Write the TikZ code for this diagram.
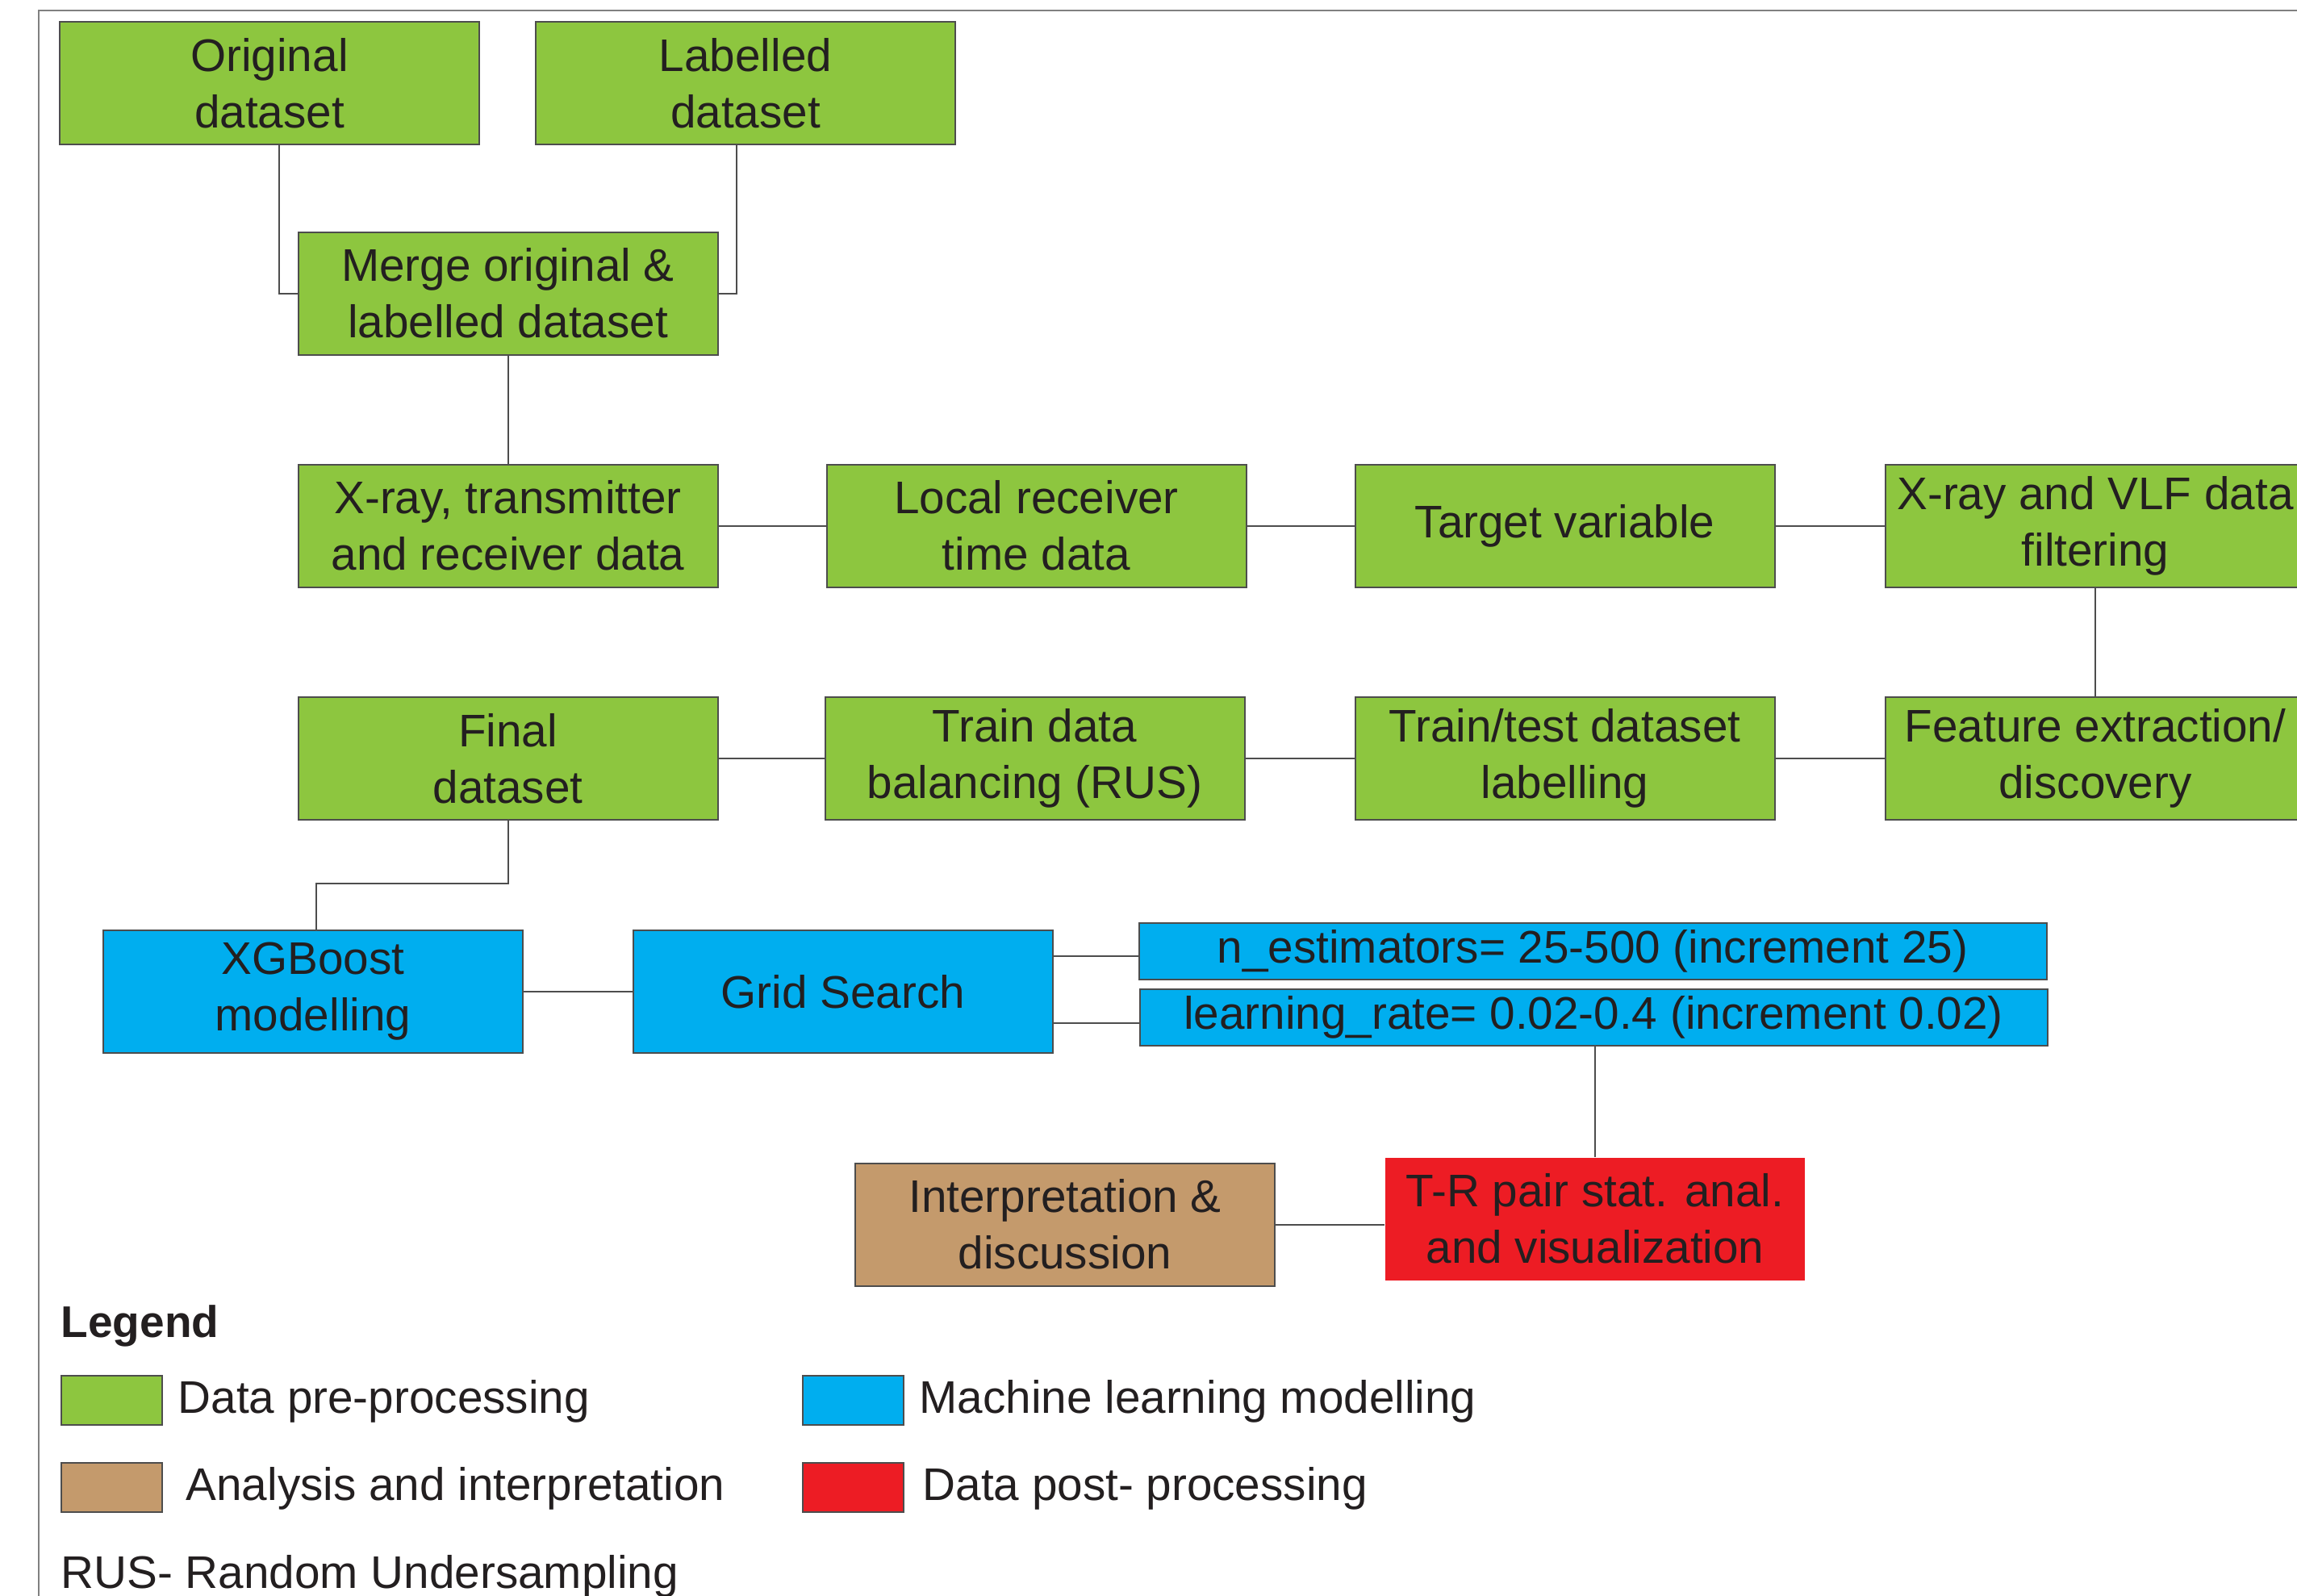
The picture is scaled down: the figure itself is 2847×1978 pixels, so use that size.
\documentclass[tikz,border=0pt]{standalone}
\usepackage{fontspec}
\setmainfont{Liberation Sans}
\definecolor{cgreen}{HTML}{8DC63F}
\definecolor{cblue}{HTML}{00AEEF}
\definecolor{cbrown}{HTML}{C49A6C}
\definecolor{cred}{HTML}{ED1C24}
\definecolor{txt}{HTML}{231F20}
\definecolor{edge}{HTML}{4D4D4D}
\begin{document}
\begin{tikzpicture}[x=0.3pt,y=-0.3pt,
  basebox/.style={draw=edge, line width=0.6pt, inner sep=0pt, align=center,
    text=txt, font=\fontsize{17pt}{21pt}\selectfont},
  pbox/.style={basebox, minimum width=156pt, minimum height=45.6pt},
  gbox/.style={pbox, fill=cgreen},
  bbox/.style={pbox, fill=cblue},
  parbox/.style={basebox, fill=cblue, minimum width=337.5pt, minimum height=21pt},
  link/.style={draw=edge, line width=0.6pt},
  swatch/.style={draw=edge, line width=0.6pt, minimum width=37.5pt, minimum height=18.3pt, inner sep=0pt, anchor=north west},
  legtext/.style={anchor=base west, inner sep=0pt, text=txt, font=\fontsize{17pt}{21pt}\selectfont}]
\useasboundingbox (0,0) rectangle (2847,1978);
\clip (0,0) rectangle (2847,1978);
\draw[draw=gray, line width=0.4pt] (48,1990) -- (48,13) -- (2860,13);

% row 1
\node[gbox] (orig) at (334,103) {Original\\dataset};
\node[gbox] (lab) at (924,103) {Labelled\\dataset};
\node[gbox] (merge) at (629.5,363.5) {Merge original \&\\labelled dataset};
% row 2
\node[gbox] (xray) at (629.5,651.5) {X-ray, transmitter\\and receiver data};
\node[gbox] (local) at (1284.5,651.5) {Local receiver\\time data};
\node[gbox] (target) at (1939.5,651.5) {Target variable};
\node[gbox] (vlf) at (2597,651.5) {X-ray and VLF data\\filtering};
% row 3
\node[gbox] (final) at (629.5,940) {Final\\dataset};
\node[gbox] (bal) at (1282.5,940) {Train data\\balancing (RUS)};
\node[gbox] (tt) at (1939.5,940) {Train/test dataset\\labelling};
\node[gbox] (feat) at (2597,940) {Feature extraction/\\discovery};
% row 4
\node[bbox] (xgb) at (388,1229) {XGBoost\\modelling};
\node[bbox] (grid) at (1045,1229) {Grid Search};
\node[parbox] (nest) at (1974,1179) {n\_estimators= 25-500 (increment 25)};
\node[parbox] (lr) at (1975,1261) {learning\_rate= 0.02-0.4 (increment 0.02)};
% row 5
\node[pbox, draw=none, fill=cred] (tr) at (1977,1510.5) {T-R pair stat. anal.\\and visualization};
\node[pbox, fill=cbrown] (interp) at (1320,1517.5) {Interpretation \&\\discussion};

% connectors
\draw[link] ([xshift=3.6pt]orig.south) |- (merge.west);
\draw[link] ([xshift=-3.4pt]lab.south) |- (merge.east);
\draw[link] (merge.south) -- (xray.north);
\draw[link] (xray.east) -- (local.west);
\draw[link] (local.east) -- (target.west);
\draw[link] (target.east) -- (vlf.west);
\draw[link] (vlf.south) -- (feat.north);
\draw[link] (final.east) -- (bal.west);
\draw[link] (bal.east) -- (tt.west);
\draw[link] (tt.east) -- (feat.west);
\coordinate (k1) at (629.5,1095);
\coordinate (k2) at (392,1095);
\draw[link] (final.south) -- (k1) -- (k2) -- (k2 |- xgb.north);
\draw[link] (xgb.east) -- (grid.west);
\draw[link] ([yshift=-1.8pt]nest.west -| grid.east) -- ([yshift=-1.8pt]nest.west);
\draw[link] ([yshift=-2pt]lr.west -| grid.east) -- ([yshift=-2pt]lr.west);
\draw[link] (lr.south -| tr.north) -- (tr.north);
\draw[link] (interp.east) -- (interp.east -| tr.west);

% legend
\node[legtext, font=\fontsize{16.5pt}{20pt}\selectfont\bfseries] (legt) at (75,1657) {Legend};
\node[swatch, fill=cgreen] (sw1) at (75,1704) {};
\node[legtext] (lt1) at (220,1751) {Data pre-processing};
\node[swatch, fill=cblue] (sw2) at (994,1704) {};
\node[legtext] (lt2) at (1139,1751) {Machine learning modelling};
\node[swatch, fill=cbrown] (sw3) at (75,1812) {};
\node[legtext] (lt3) at (230,1859) {Analysis and interpretation};
\node[swatch, fill=cred] (sw4) at (994,1812) {};
\node[legtext] (lt4) at (1143,1859) {Data post- processing};
\node[legtext] (rus) at (75,1968) {RUS- Random Undersampling};
\end{tikzpicture}
\end{document}
